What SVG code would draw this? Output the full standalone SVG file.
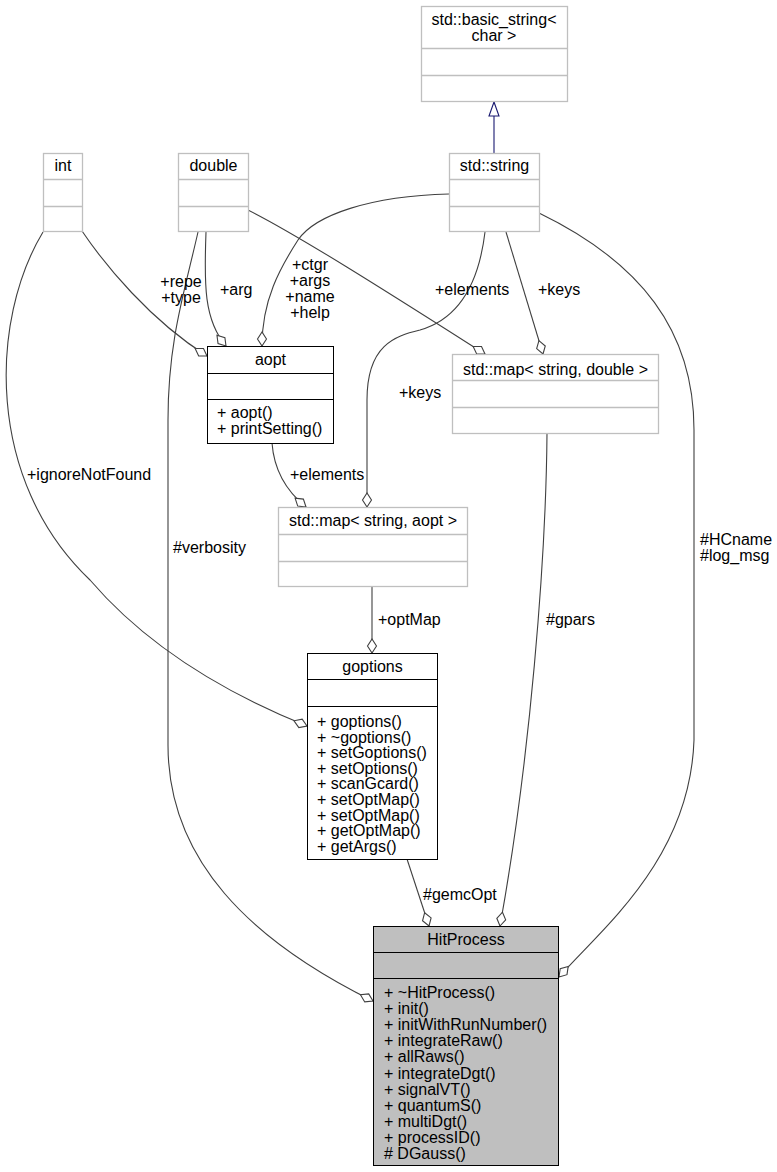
<svg xmlns="http://www.w3.org/2000/svg" width="777" height="1172" viewBox="0 0 777 1172">
<defs>
<style>
text{font-family:"Liberation Sans",Arial,sans-serif;font-size:16px;fill:#000}
.c{text-anchor:middle}
.box{fill:#fff;stroke:#000;stroke-width:1}
.ext{fill:#fff;stroke:#bfbfbf;stroke-width:1.3}
.sep{stroke:#000;stroke-width:1}
.sepx{stroke:#bfbfbf;stroke-width:1.3}
.e{fill:none;stroke:#404040;stroke-width:1.1;marker-end:url(#dia)}
</style>
<marker id="dia" markerUnits="userSpaceOnUse" markerWidth="18" markerHeight="12" viewBox="-1 -6 18 12" refX="14" refY="0" orient="auto" overflow="visible">
<path d="M14,0 L7,-4.5 L0,0 L7,4.5 Z" fill="#fff" stroke="#404040" stroke-width="1.1"/>
</marker>
<marker id="tri" markerUnits="userSpaceOnUse" markerWidth="16" markerHeight="12" viewBox="-1 -6 16 12" refX="14" refY="0" orient="auto" overflow="visible">
<path d="M14,0 L0,-5 L0,5 Z" fill="#fff" stroke="#191970" stroke-width="1.1"/>
</marker>
</defs>
<rect width="777" height="1172" fill="#fff"/>
<g id="edges">
<path d="M494,153 L494,102" fill="none" stroke="#191970" stroke-width="1.1" marker-end="url(#tri)"/>
<path class="e" d="M82,231 C105,265 150,320 207,356"/>
<path class="e" d="M43,232 C-10,320 -15,480 90,580 C150,650 230,695 307,726"/>
<path class="e" d="M206,232 C204,285 204,320 226,346"/>
<path class="e" d="M198,232 C185,290 168,340 168,420 L168,745 C168,860 250,940 373,1001"/>
<path class="e" d="M449,194 C370,196 315,215 298,240 C280,268 262,300 262,346"/>
<path class="e" d="M485,232 C478,290 455,320 420,330 C395,336 367,345 367,400 L367,507"/>
<path class="e" d="M506,232 L543,354"/>
<path class="e" d="M539,213 C640,262 694,330 694,430 L694,740 C690,860 600,930 559,977"/>
<path class="e" d="M248,210 C300,236 400,300 485,354"/>
<path class="e" d="M272,443 C274,470 285,490 306,507"/>
<path class="e" d="M372,587 L372,653"/>
<path class="e" d="M407,859 L429,926"/>
<path class="e" d="M547,433 C546,560 530,760 500,926"/>
</g>
<g id="edge-labels">
<text class="c" x="181" y="287">+repe</text>
<text class="c" x="181" y="303">+type</text>
<text x="220" y="295">+arg</text>
<text class="c" x="310" y="270">+ctgr</text>
<text class="c" x="310" y="286">+args</text>
<text class="c" x="310" y="302">+name</text>
<text class="c" x="310" y="318">+help</text>
<text x="435" y="295">+elements</text>
<text x="538" y="295">+keys</text>
<text x="399" y="398">+keys</text>
<text x="27" y="480">+ignoreNotFound</text>
<text x="290" y="480">+elements</text>
<text x="173" y="553">#verbosity</text>
<text x="700" y="545">#HCname</text>
<text x="700" y="561">#log_msg</text>
<text x="378" y="625">+optMap</text>
<text x="546" y="625">#gpars</text>
<text x="423" y="900">#gemcOpt</text>
</g>
<g id="basic_string">
<rect class="ext" x="421.5" y="6.5" width="146" height="95"/>
<line class="sepx" x1="421.5" y1="48.5" x2="567.5" y2="48.5"/>
<line class="sepx" x1="421.5" y1="75.5" x2="567.5" y2="75.5"/>
<text class="c" x="494" y="25">std::basic_string&lt;</text>
<text class="c" x="494" y="41">char &gt;</text>
</g>
<g id="string">
<rect class="ext" x="449.5" y="153.5" width="90" height="78"/>
<line class="sepx" x1="449.5" y1="179.5" x2="539.5" y2="179.5"/>
<line class="sepx" x1="449.5" y1="206.5" x2="539.5" y2="206.5"/>
<text class="c" x="494.5" y="171">std::string</text>
</g>
<g id="int">
<rect class="ext" x="43.5" y="153.5" width="39" height="78"/>
<line class="sepx" x1="43.5" y1="179.5" x2="82.5" y2="179.5"/>
<line class="sepx" x1="43.5" y1="206.5" x2="82.5" y2="206.5"/>
<text class="c" x="63" y="171">int</text>
</g>
<g id="double">
<rect class="ext" x="178.5" y="153.5" width="70" height="78"/>
<line class="sepx" x1="178.5" y1="179.5" x2="248.5" y2="179.5"/>
<line class="sepx" x1="178.5" y1="206.5" x2="248.5" y2="206.5"/>
<text class="c" x="213.5" y="171">double</text>
</g>
<g id="aopt">
<rect class="box" x="207.5" y="346.5" width="126" height="97"/>
<line class="sep" x1="207.5" y1="373.5" x2="333.5" y2="373.5"/>
<line class="sep" x1="207.5" y1="399.5" x2="333.5" y2="399.5"/>
<text class="c" x="270.5" y="365">aopt</text>
<text x="217" y="418">+ aopt()</text>
<text x="217" y="434">+ printSetting()</text>
</g>
<g id="map_string_double">
<rect class="ext" x="452.5" y="354.5" width="206" height="79"/>
<line class="sepx" x1="452.5" y1="380.5" x2="658.5" y2="380.5"/>
<line class="sepx" x1="452.5" y1="407.5" x2="658.5" y2="407.5"/>
<text class="c" x="555.5" y="375">std::map&lt; string, double &gt;</text>
</g>
<g id="map_string_aopt">
<rect class="ext" x="278.5" y="507.5" width="189" height="79"/>
<line class="sepx" x1="278.5" y1="534.5" x2="467.5" y2="534.5"/>
<line class="sepx" x1="278.5" y1="561.5" x2="467.5" y2="561.5"/>
<text class="c" x="373" y="526">std::map&lt; string, aopt &gt;</text>
</g>
<g id="goptions">
<rect class="box" x="307.5" y="653.5" width="130" height="206"/>
<line class="sep" x1="307.5" y1="679.5" x2="437.5" y2="679.5"/>
<line class="sep" x1="307.5" y1="706.5" x2="437.5" y2="706.5"/>
<text class="c" x="372.5" y="672">goptions</text>
<text x="317" y="727">+ goptions()</text>
<text x="317" y="742.6">+ ~goptions()</text>
<text x="317" y="758.2">+ setGoptions()</text>
<text x="317" y="773.8">+ setOptions()</text>
<text x="317" y="789.4">+ scanGcard()</text>
<text x="317" y="805">+ setOptMap()</text>
<text x="317" y="820.6">+ setOptMap()</text>
<text x="317" y="836.2">+ getOptMap()</text>
<text x="317" y="851.8">+ getArgs()</text>
</g>
<g id="HitProcess">
<rect x="373.5" y="926.5" width="185" height="239" fill="#bfbfbf" stroke="#000"/>
<line class="sep" x1="373.5" y1="952.5" x2="558.5" y2="952.5"/>
<line class="sep" x1="373.5" y1="978.5" x2="558.5" y2="978.5"/>
<text class="c" x="466" y="945">HitProcess</text>
<text x="384" y="998">+ ~HitProcess()</text>
<text x="384" y="1014.1">+ init()</text>
<text x="384" y="1030.2">+ initWithRunNumber()</text>
<text x="384" y="1046.3">+ integrateRaw()</text>
<text x="384" y="1062.4">+ allRaws()</text>
<text x="384" y="1078.5">+ integrateDgt()</text>
<text x="384" y="1094.6">+ signalVT()</text>
<text x="384" y="1110.7">+ quantumS()</text>
<text x="384" y="1126.8">+ multiDgt()</text>
<text x="384" y="1142.9">+ processID()</text>
<text x="384" y="1159"># DGauss()</text>
</g>
</svg>
